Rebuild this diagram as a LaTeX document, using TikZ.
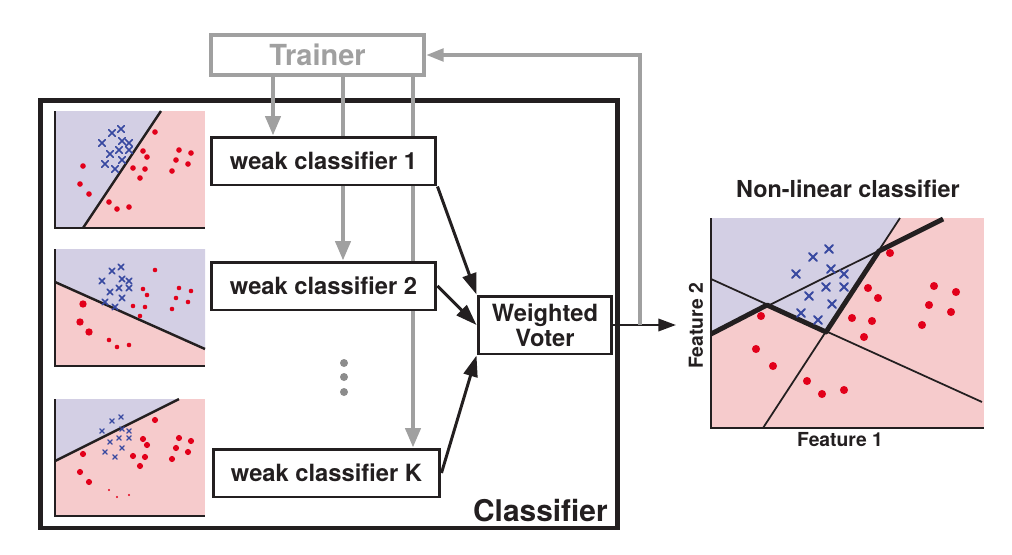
\documentclass[tikz,border=0pt]{standalone}
\usepackage{fontspec}
\setmainfont{TeX Gyre Heros}
\usetikzlibrary{arrows.meta}

\definecolor{bclav}{HTML}{D3CFE4}
\definecolor{bcpink}{HTML}{F6CBCC}
\definecolor{bcred}{HTML}{E2001A}
\definecolor{bcblue}{HTML}{3748A0}
\definecolor{bcgrey}{HTML}{A0A0A0}
\definecolor{bcdark}{HTML}{231F20}
\definecolor{bcdotgrey}{HTML}{8C8C8C}

% sample points of the weak-learner plots (top plot coordinates)
\newcommand\crosspts{112/133,121/129,102/143,122/141,129/143,119/150,129/150,110/154,122/160,105/164,115/169}
\newcommand\dotpts{155/132,143/151,147/157,133/168,145/169,140/178,179/150,191/153,176/160,188/164,172/171}
\newcommand\misspts{83/166,80/184,89/194}
\newcommand\lowpts{109/202,117/209,129/207}

\tikzset{
  bcbox/.style={draw=bcdark, line width=1.7pt, fill=white, inner sep=0pt,
    minimum width=4.5cm, minimum height=0.96cm, font=\fontsize{13.5}{15}\selectfont\bfseries, text=bcdark},
  bcvoter/.style={bcbox, minimum width=2.68cm, minimum height=1.16cm, align=center,
    font=\fontsize{13.5}{14}\selectfont\bfseries},
  bctrainer/.style={draw=bcgrey, line width=2.3pt, fill=white, inner sep=0pt,
    minimum width=4.26cm, minimum height=0.8cm, font=\fontsize{16.5}{18}\selectfont\bfseries, text=bcgrey},
  bcframe/.style={draw=bcdark, line width=2.8pt, inner sep=0pt, minimum width=11.56cm, minimum height=8.56cm},
  bcgray/.style={draw=bcgrey, line width=2.3pt},
  bcgrayarrow/.style={bcgray, -{Triangle[length=11pt,width=8.5pt]}},
  bcedge/.style={draw=bcdark, line width=1.7pt, -{Triangle[length=12pt,width=8pt]}},
  bcdot/.style={circle, fill=bcdotgrey, inner sep=0pt, minimum size=0.16cm},
  bcaxis/.style={draw=bcdark, line width=0.9pt},
  bcsplit/.style={draw=bcdark, line width=1.4pt},
  bccross/.style={draw=bcblue, line cap=round},
  bclabel/.style={font=\bfseries, text=bcdark, inner sep=0pt}
}

\begin{document}
\begin{tikzpicture}[x=0.02cm, y=-0.02cm]
\useasboundingbox (0,0) rectangle (1012,555);

\node[bcframe] (cls) at (329,314) {};
\node[bclabel, font=\fontsize{17}{19}\selectfont\bfseries, anchor=base east] (clsname) at (608,521) {Classifier};

% weak learner 1
\fill[bcpink] (55,111) rectangle (205,228);
\fill[bclav] (55,111) -- (161,111) -- (83,228) -- (55,228) -- cycle;
\draw[bcsplit] (83,228) -- (161,111);
\draw[bcaxis] (55,111) -- (55,228) -- (205,228);
\foreach \x/\y in \crosspts
  \draw[bccross, line width=1pt] (\x,\y) +(-1.8pt,-1.8pt) -- +(1.8pt,1.8pt) +(-1.8pt,1.8pt) -- +(1.8pt,-1.8pt);
\foreach \x/\y in \dotpts \fill[bcred] (\x,\y) circle[radius=1.6pt];
\foreach \x/\y in \misspts \fill[bcred] (\x,\y) circle[radius=1.6pt];
\foreach \x/\y in \lowpts \fill[bcred] (\x,\y) circle[radius=1.6pt];

% weak learner 2
\begin{scope}[shift={(0,138)}]
\fill[bcpink] (55,111) rectangle (205,228);
\fill[bclav] (55,111) -- (205,111) -- (205,211) -- (55,144) -- cycle;
\draw[bcsplit] (55,144) -- (205,211);
\draw[bcaxis] (55,111) -- (55,228) -- (205,228);
\foreach \x/\y in \crosspts
  \draw[bccross, line width=0.85pt] (\x,\y) +(-1.6pt,-1.6pt) -- +(1.6pt,1.6pt) +(-1.6pt,1.6pt) -- +(1.6pt,-1.6pt);
\foreach \x/\y in \dotpts \fill[bcred] (\x,\y) circle[radius=1.3pt];
\foreach \x/\y in \misspts \fill[bcred] (\x,\y) circle[radius=2.1pt];
\foreach \x/\y in \lowpts \fill[bcred] (\x,\y) circle[radius=1.3pt];
\end{scope}

% weak learner K
\begin{scope}[shift={(0,288)}]
\fill[bcpink] (55,111) rectangle (205,228);
\fill[bclav] (55,111) -- (179,111) -- (55,173) -- cycle;
\draw[bcsplit] (55,173) -- (179,111);
\draw[bcaxis] (55,111) -- (55,228) -- (205,228);
\foreach \x/\y in \crosspts
  \draw[bccross, line width=0.65pt] (\x,\y) +(-1.2pt,-1.2pt) -- +(1.2pt,1.2pt) +(-1.2pt,1.2pt) -- +(1.2pt,-1.2pt);
\foreach \x/\y in \dotpts \fill[bcred] (\x,\y) circle[radius=1.75pt];
\foreach \x/\y in \misspts \fill[bcred] (\x,\y) circle[radius=1.75pt];
\foreach \x/\y in \lowpts \fill[bcred] (\x,\y) circle[radius=0.7pt];
\end{scope}

\node[bctrainer] (trainer) at (317.5,55) {Trainer};
\node[bcbox] (wc1) at (323.5,161) {weak classifier 1};
\node[bcbox] (wc2) at (323.5,286) {weak classifier 2};
\node[bcbox, minimum width=4.54cm] (wcK) at (326.5,473) {weak classifier K};
\node[bcvoter] (voter) at (545,325) {Weighted\\Voter};
\node[bcdot] (more1) at (344,363) {};
\node[bcdot] (more2) at (344,377) {};
\node[bcdot] (more3) at (344,392) {};

% trainer feeds
\coordinate (tb1) at (273,0);
\coordinate (tb2) at (343,0);
\coordinate (tb3) at (413,0);
\draw[bcgrayarrow] (trainer.south -| tb1) -- (wc1.north -| tb1);
\draw[bcgray] (trainer.south -| tb2) -- (wc1.north -| tb2);
\draw[bcgrayarrow] (wc1.south -| tb2) -- (wc2.north -| tb2);
\draw[bcgray] (trainer.south -| tb3) -- (wc1.north -| tb3);
\draw[bcgray] (wc1.south -| tb3) -- (wc2.north -| tb3);
\draw[bcgrayarrow] (wc2.south -| tb3) -- (wcK.north -| tb3);

\draw[bcedge] (wc1.south east) -- (voter.north west);
\draw[bcedge] (wc2.east) -- (voter.west);
\draw[bcedge] (wcK.east) -- (voter.south west);

\coordinate (out) at (676,325);
\coordinate (fb) at (640,325);
\draw[bcedge, line width=1.4pt, -{Triangle[length=10pt,width=7pt]}] (voter.east) -- (out);
\draw[bcgrayarrow, -{Triangle[length=10pt,width=7pt]}] (fb) |- (trainer.east);

% non-linear result
\fill[bcpink] (711,218) rectangle (984,428);
\fill[bclav] (711,218) -- (900,218) -- (879,251) -- (826,332) -- (767,305) -- (711,334) -- cycle;
\draw[bcdark, line width=1pt] (711,279) -- (982,402);
\draw[bcdark, line width=1pt] (763,428) -- (900,218);
\draw[bcdark, line width=1pt] (711,334) -- (943,219);
\draw[bcdark, line width=2.8pt, line join=round] (711,334) -- (767,305) -- (826,332) -- (879,251) -- (943,219);
\draw[bcaxis, line width=1.5pt] (711,218) -- (711,428) -- (984,428);
\foreach \x/\y in {829/249,813/257,831/269,796/274,844/274,826/287,844/287,809/296,832/304,801/313,818/320}
  \draw[bccross, line width=1.1pt] (\x,\y) +(-2.3pt,-2.3pt) -- +(2.3pt,2.3pt) +(-2.3pt,2.3pt) -- +(2.3pt,-2.3pt);
\foreach \x/\y in {890/253,868/288,878/298,852/318,872/321,864/337,934/286,956/292,929/305,951/312,922/325,761/316,756/349,773/366,807/381,822/394,844/390}
  \fill[bcred] (\x,\y) circle[radius=2.3pt];
\node[bclabel, font=\fontsize{13.3}{15}\selectfont\bfseries] (nltitle) at (848,189) {Non-linear classifier};
\node[bclabel, font=\fontsize{11}{13}\selectfont\bfseries] (feat1) at (840,440) {Feature 1};
\node[bclabel, font=\fontsize{11}{13}\selectfont\bfseries, rotate=90] (feat2) at (696,326) {Feature 2};
\end{tikzpicture}
\end{document}
